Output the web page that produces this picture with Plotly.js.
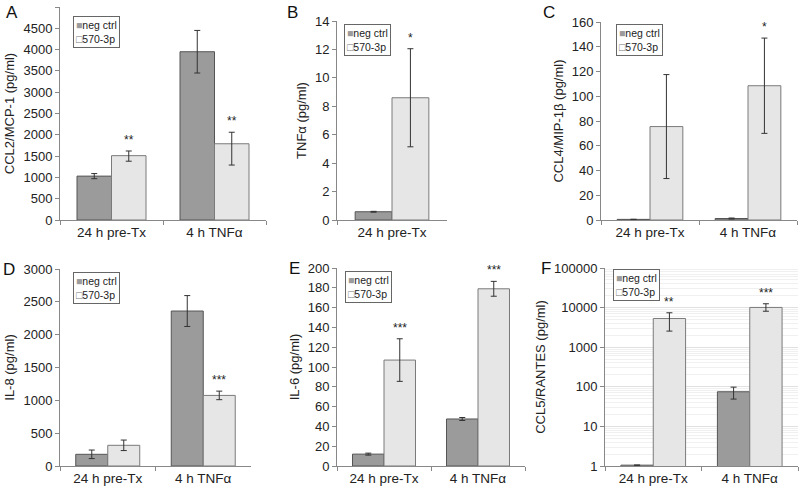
<!DOCTYPE html>
<html>
<head>
<meta charset="utf-8">
<script src="https://cdn.plot.ly/plotly-3.0.1.min.js"></script>
<style>
  body { margin: 0; background: #fff; }
  #chart { width: 800px; height: 491px; }
</style>
</head>
<body>
<div id="chart"></div>
<script>
var groups = ['24 h pre-Tx', '4 h TNFα'];

// A: CCL2/MCP-1
var ccl2Neg = [1030, 3950];
var ccl2NegErr = [60, 500];
var ccl2Pos = [1510, 1790];
var ccl2PosErrUp = [110, 270];
var ccl2PosErrDown = [130, 500];
var ccl2Sig = ['**', '**'];

// B: TNFa (only pre-Tx)
var tnfGroups = ['24 h pre-Tx'];
var tnfNeg = [0.58];
var tnfNegErr = [0.03];
var tnfPos = [8.6];
var tnfPosErr = [3.45];
var tnfSig = ['*'];

// C: CCL4/MIP-1b
var ccl4Neg = [0.5, 1.2];
var ccl4NegErr = [0.1, 0.4];
var ccl4Pos = [75.5, 108.5];
var ccl4PosErr = [42, 38.5];
var ccl4Sig = ['', '*'];

// D: IL-8
var il8Neg = [178, 2360];
var il8NegErr = [65, 235];
var il8Pos = [315, 1075];
var il8PosErr = [80, 65];
var il8Sig = ['', '***'];

// E: IL-6
var il6Neg = [12, 47.5];
var il6NegErr = [1, 1.5];
var il6Pos = [107, 179];
var il6PosErr = [21.5, 7.5];
var il6Sig = ['***', '***'];

// F: CCL5/RANTES (log axis)
var ccl5Neg = [1.05, 75];
var ccl5NegErrUp = [0.01, 23];
var ccl5NegErrDown = [0.01, 26];
var ccl5Pos = [5300, 10100];
var ccl5PosErrUp = [2100, 2400];
var ccl5PosErrDown = [2750, 2000];
var ccl5Sig = ['**', '***'];

var NEG_FILL = '#9b9b9b', NEG_LINE = '#555555';
var POS_FILL = '#e6e6e6', POS_LINE = '#7a7a7a';
var BARGAP = 0.33;
var FONT = 'Liberation Sans, Arial, sans-serif';

var panels = [
  { letter: 'A', title: 'CCL2/MCP-1 (pg/ml)', cats: groups,
    neg: ccl2Neg, negUp: ccl2NegErr, negDn: ccl2NegErr,
    pos: ccl2Pos, posUp: ccl2PosErrUp, posDn: ccl2PosErrDown, sig: ccl2Sig,
    x: [60, 266], y: [7, 220], range: [0, 5000], dtick: 500,
    letterPos: [12, 13], legPos: [73, 16] },
  { letter: 'B', title: 'TNFα (pg/ml)', cats: tnfGroups,
    neg: tnfNeg, negUp: tnfNegErr, negDn: tnfNegErr,
    pos: tnfPos, posUp: tnfPosErr, posDn: tnfPosErr, sig: tnfSig,
    x: [337, 447], y: [21, 220], range: [0, 14], dtick: 2,
    letterPos: [292, 13], legPos: [344, 24] },
  { letter: 'C', title: 'CCL4/MIP-1β (pg/ml)', cats: groups,
    neg: ccl4Neg, negUp: ccl4NegErr, negDn: ccl4NegErr,
    pos: ccl4Pos, posUp: ccl4PosErr, posDn: ccl4PosErr, sig: ccl4Sig,
    x: [601, 797], y: [22, 220], range: [0, 160], dtick: 20,
    letterPos: [549, 13], legPos: [616, 24] },
  { letter: 'D', title: 'IL-8 (pg/ml)', cats: groups,
    neg: il8Neg, negUp: il8NegErr, negDn: il8NegErr,
    pos: il8Pos, posUp: il8PosErr, posDn: il8PosErr, sig: il8Sig,
    x: [60, 251], y: [269, 466], range: [0, 3000], dtick: 500,
    letterPos: [9, 269], legPos: [73, 272] },
  { letter: 'E', title: 'IL-6 (pg/ml)', cats: groups,
    neg: il6Neg, negUp: il6NegErr, negDn: il6NegErr,
    pos: il6Pos, posUp: il6PosErr, posDn: il6PosErr, sig: il6Sig,
    x: [337, 525], y: [268, 466], range: [0, 200], dtick: 20,
    letterPos: [294, 268], legPos: [345, 271] },
  { letter: 'F', title: 'CCL5/RANTES (pg/ml)', cats: groups,
    neg: ccl5Neg, negUp: ccl5NegErrUp, negDn: ccl5NegErrDown,
    pos: ccl5Pos, posUp: ccl5PosErrUp, posDn: ccl5PosErrDown, sig: ccl5Sig,
    x: [605, 798], y: [268, 466], range: [0, 5], log: true,
    letterPos: [546, 268], legPos: [613, 269] }
];

var W = 800, H = 491;
var data = [];
var annotations = [];
var layout = {
  width: W, height: H,
  margin: { l: 0, r: 0, t: 0, b: 0 },
  paper_bgcolor: '#fff', plot_bgcolor: 'rgba(0,0,0,0)',
  font: { family: FONT, size: 13, color: '#222' },
  barmode: 'group',
  bargap: BARGAP,
  bargroupgap: 0,
  showlegend: false
};

panels.forEach(function (p, i) {
  var n = i === 0 ? '' : String(i + 1);
  var xa = 'x' + n, ya = 'y' + n;

  data.push({
    type: 'bar', name: 'neg ctrl', x: p.cats, y: p.neg,
    xaxis: xa, yaxis: ya,
    marker: { color: NEG_FILL, line: { color: NEG_LINE, width: 1 } },
    error_y: { type: 'data', symmetric: false, array: p.negUp, arrayminus: p.negDn,
               color: '#333', thickness: 1, width: 3 }
  });
  data.push({
    type: 'bar', name: '570-3p', x: p.cats, y: p.pos,
    xaxis: xa, yaxis: ya,
    marker: { color: POS_FILL, line: { color: POS_LINE, width: 1 } },
    error_y: { type: 'data', symmetric: false, array: p.posUp, arrayminus: p.posDn,
               color: '#333', thickness: 1, width: 3 }
  });

  layout['xaxis' + n] = {
    domain: [p.x[0] / W, p.x[1] / W],
    anchor: ya,
    type: 'category',
    range: [-0.5, p.cats.length - 0.5],
    showline: true, linecolor: '#888', linewidth: 1,
    ticks: 'outside', tickson: 'boundaries', ticklen: 4, tickcolor: '#888',
    showgrid: false, zeroline: false,
    tickfont: { size: 13.5, color: '#222' },
    fixedrange: true
  };

  var yax = {
    domain: [1 - p.y[1] / H, 1 - p.y[0] / H],
    anchor: xa,
    showline: true, linecolor: '#888', linewidth: 1,
    ticks: 'outside', ticklen: 4, tickcolor: '#888',
    zeroline: false,
    tickfont: { size: 13, color: '#222' },
    title: { text: p.title, font: { size: 13, color: '#222' }, standoff: 5 },
    fixedrange: true
  };
  if (p.log) {
    yax.type = 'log';
    yax.range = p.range;
    yax.dtick = 1;
    yax.tickformat = 'd';
    yax.showgrid = true;
    yax.gridcolor = '#e0e0e0';
    yax.minor = { showgrid: true, gridcolor: '#f0f0f0', ticks: '' };
  } else {
    yax.range = p.range;
    yax.dtick = p.dtick;
    yax.showgrid = false;
  }
  layout['yaxis' + n] = yax;

  // significance stars above the 570-3p bars
  var off = (1 - BARGAP) / 4;
  p.sig.forEach(function (s, k) {
    if (!s) return;
    var top = p.pos[k] + p.posUp[k];
    annotations.push({
      xref: xa, yref: ya, x: k + off, y: p.log ? Math.log10(top) : top,
      text: s, showarrow: false, yanchor: 'bottom', yshift: 2,
      font: { size: 12, color: '#222' }
    });
  });

  // panel letter
  annotations.push({
    xref: 'paper', yref: 'paper',
    x: p.letterPos[0] / W, y: 1 - p.letterPos[1] / H,
    text: p.letter, showarrow: false, xanchor: 'center', yanchor: 'middle',
    font: { size: 17, color: '#111' }
  });

  // compact boxed legend, Excel style
  annotations.push({
    xref: 'paper', yref: 'paper',
    x: p.legPos[0] / W, y: 1 - p.legPos[1] / H,
    xanchor: 'left', yanchor: 'top', align: 'left', showarrow: false,
    text: '<span style="color:' + NEG_FILL + '">■</span>neg ctrl<br>' +
          '<span style="color:#777">□</span>570-3p',
    font: { size: 10.5, color: '#222' },
    bgcolor: '#fff', bordercolor: '#666', borderwidth: 1, borderpad: 2
  });
});

layout.annotations = annotations;

Plotly.newPlot('chart', data, layout, { displayModeBar: false, staticPlot: true });
</script>
</body>
</html>
